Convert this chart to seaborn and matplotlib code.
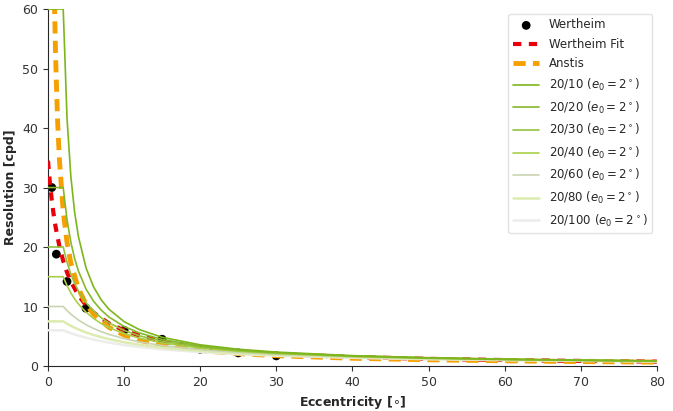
import numpy as np
import pandas as pd
import matplotlib
matplotlib.use("Agg")
import matplotlib.pyplot as plt
import seaborn as sns

# Wertheim measurements (eccentricity in deg, resolution in cpd)
wert_ecc = [0.5, 1.1, 2.5, 5, 10, 15, 20, 25, 30]
wert_res = [30.0, 18.8, 14.2, 9.7, 6.0, 4.5, 2.8, 2.2, 1.7]

# Wertheim fit
fit_ecc = [0, 0.25, 0.5, 0.75, 1, 1.5, 2, 2.5, 3, 4, 5, 6, 8, 10, 12, 15, 20, 25, 30, 40, 50, 60, 70, 80]
fit_res = [34.5, 30.83, 27.87, 25.42, 23.37, 20.13, 17.67, 15.75, 14.21, 11.88, 10.20, 8.94, 7.17,
           5.99, 5.10, 4.15, 3.10, 2.45, 2.02, 1.50, 1.20, 1.00, 0.85, 0.74]

# Anstis
anstis_ecc = [0.85, 1, 1.25, 1.5, 2, 2.5, 3, 4, 5, 6, 8, 10, 12, 15, 20, 25, 30, 40, 50, 60, 70, 80]
anstis_res = [61.2, 52.0, 41.6, 34.67, 26.0, 20.8, 17.33, 13.0, 10.4, 8.67, 6.5, 5.2, 4.33, 3.47,
              2.6, 2.08, 1.73, 1.3, 1.04, 0.87, 0.74, 0.65]

# acuity curves, e0 = 2 deg
acuity_ecc = [0, 2, 2.5, 3, 3.5, 4, 5, 6, 7, 8, 10, 12, 15, 20, 25, 30, 40, 50, 60, 70, 80]
acuity_labels = ['20/10', '20/20', '20/30', '20/40', '20/60', '20/80', '20/100']
acuity_res = [
    [60, 60, 41.67, 31.91, 25.86, 21.74, 16.48, 13.27, 11.11, 9.55, 7.46, 6.12, 4.82, 3.56, 2.82, 2.34, 1.74, 1.39, 1.15, 0.99, 0.86],
    [30, 30, 24.59, 20.83, 18.07, 15.96, 12.93, 10.87, 9.38, 8.24, 6.64, 5.56, 4.46, 3.36, 2.70, 2.25, 1.69, 1.36, 1.13, 0.97, 0.85],
    [20, 20, 17.44, 15.46, 13.89, 12.61, 10.64, 9.20, 8.11, 7.25, 5.98, 5.08, 4.16, 3.18, 2.58, 2.17, 1.65, 1.33, 1.11, 0.95, 0.84],
    [15, 15, 13.51, 12.30, 11.28, 10.42, 9.04, 7.98, 7.14, 6.47, 5.43, 4.69, 3.89, 3.02, 2.48, 2.09, 1.60, 1.30, 1.09, 0.94, 0.83],
    [10, 10, 9.32, 8.72, 8.20, 7.73, 6.94, 6.30, 5.77, 5.32, 4.60, 4.05, 3.44, 2.75, 2.29, 1.96, 1.52, 1.24, 1.05, 0.91, 0.80],
    [7.5, 7.5, 7.11, 6.76, 6.44, 6.15, 5.64, 5.21, 4.84, 4.52, 3.99, 3.57, 3.09, 2.52, 2.12, 1.84, 1.45, 1.19, 1.02, 0.88, 0.78],
    [6, 6, 5.75, 5.51, 5.30, 5.10, 4.75, 4.44, 4.17, 3.93, 3.52, 3.19, 2.80, 2.32, 1.98, 1.73, 1.38, 1.15, 0.98, 0.86, 0.76],
]
acuity_colors = ['#7db61c', '#86b82a', '#94c23e', '#a9cf4a', '#c9d4b2', '#dcebb0', '#ececea']
acuity_lw = [1.2, 1.2, 1.2, 1.2, 1.2, 1.8, 1.8]

sns.set_style('ticks')
plt.rcParams['font.family'] = ['DejaVu Sans']

fig, ax = plt.subplots(figsize=(6.73, 4.11), dpi=100)
fig.subplots_adjust(left=0.0713, right=0.976, bottom=0.1095, top=0.978)

sns.scatterplot(x=wert_ecc, y=wert_res, color='black', s=40, edgecolor='none',
                label='Wertheim', ax=ax, zorder=2)
sns.lineplot(x=fit_ecc, y=fit_res, color='#e8000b', linewidth=3, ax=ax,
             label='Wertheim Fit', zorder=3)
ax.lines[-1].set_dashes([2.0, 1.8])
sns.lineplot(x=anstis_ecc, y=anstis_res, color='#f5a000', linewidth=3.5, ax=ax,
             label='Anstis', zorder=3.5)
ax.lines[-1].set_dashes([2.5, 1.5])

# darkest curve on top so the pale ones don't wash out the tail
for i, (lab, res, col, lw) in enumerate(zip(acuity_labels, acuity_res, acuity_colors, acuity_lw)):
    sns.lineplot(x=acuity_ecc, y=res, color=col, linewidth=lw, ax=ax,
                 label=lab + r' ($e_0 = 2^\circ$)', zorder=5 - 0.1 * i)

ax.set_xlim(0, 80)
ax.set_ylim(0, 60)
ax.set_xticks(range(0, 81, 10))
ax.set_yticks(range(0, 61, 10))
ax.tick_params(labelsize=9, colors='#333333', length=3.5)
ax.set_xlabel(r'Eccentricity [$\circ$]', fontsize=9, fontweight='bold')
ax.set_ylabel('Resolution [cpd]', fontsize=9, fontweight='bold')
sns.despine(ax=ax)

leg = ax.legend(loc='upper right', fontsize=8.5, frameon=True, borderaxespad=0.4,
                handlelength=2.2, labelspacing=0.55)
leg.get_frame().set_edgecolor('#dddddd')

fig.savefig('out.png', dpi=100)
